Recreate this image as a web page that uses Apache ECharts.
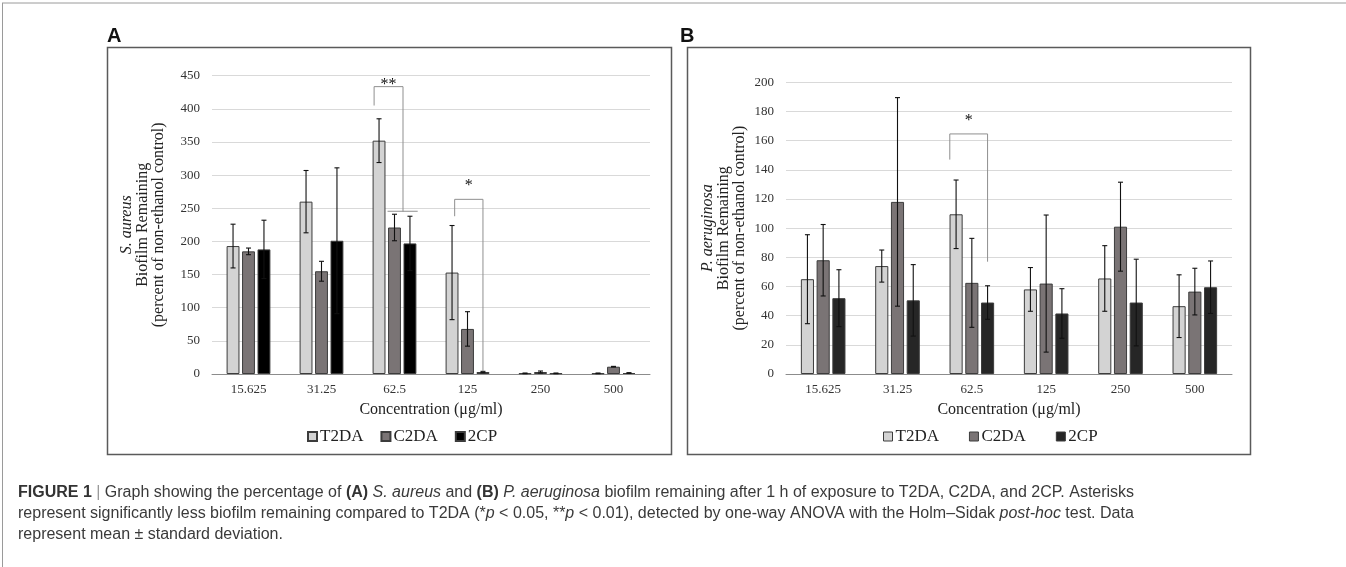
<!DOCTYPE html>
<html>
<head>
  <meta charset="UTF-8">
  <title>Biofilm remaining</title>
  <script type="text/javascript" src="https://cdn.jsdelivr.net/npm/echarts@6/dist/echarts.min.js"></script>
  <style>
    html, body { margin: 0; padding: 0; background: #fff; }
  </style>
</head>
<body>
<div id="main" style="width:1346px; height:567px;"></div>
<script>
  // ============ data ============
  const concentrations = ['15.625', '31.25', '62.5', '125', '250', '500'];
  const seriesNames = ['T2DA', 'C2DA', '2CP'];

  // A: S. aureus
  const aT2DA = [193, 260, 352, 153, 1, 1];
  const aC2DA = [185, 155, 221, 68, 3, 11];
  const a2CP  = [188, 201, 197, 3, 1, 1.5];
  const aT2DAsd = [33, 47, 33, 71, 0.5, 0.5];
  const aC2DAsd = [5, 15, 20, 26, 1.5, 0.5];
  const a2CPsd  = [44, 110, 41, 1, 0.5, 0.5];

  // B: P. aeruginosa
  const bT2DA = [65, 74, 109.5, 58, 65.5, 46.5];
  const bC2DA = [78, 118, 62.5, 62, 101, 56.5];
  const b2CP  = [52, 50.5, 49, 41.5, 49, 59.5];
  const bT2DAsd = [30.5, 11, 23.5, 15, 22.5, 21.5];
  const bC2DAsd = [24.5, 71.5, 30.5, 47, 30.5, 16];
  const b2CPsd  = [19.5, 24.5, 11.5, 17, 29.7, 18];

  // significance brackets: [category, left slot, right slot, left low, top, right low, label, label value]
  const aBrackets = [
    [2, -1.32, 0.55, 405, 433.5, 245, '**', 437],
    [3, -0.83, 1.0, 238, 263.5, 4, '*', 284]
  ];
  const aSpans = [[2, -0.45, 1.5, 245.5]];   // extra horizontal line under "**"
  const bBrackets = [
    [2, -1.4, 1.0, 147, 164.6, 77, '*', 173.5]
  ];

  const colors = ['#d3d3d3', '#7a7475', '#000000'];
  const colorsB = ['#d3d3d3', '#7a7475', '#262626'];
  const SLOT = 0.6 / 3.4 * 1.2; // bar centre step as part of band width

  const serif = 'Liberation Serif';

  let chart = echarts.init(document.getElementById('main'), null, {renderer: 'canvas'});

  function barSeries(name, data, idx, color) {
    return {
      name: name, type: 'bar', xAxisIndex: idx, yAxisIndex: idx,
      data: data, barGap: '20%', barCategoryGap: '40%',
      itemStyle: {color: color, borderColor: '#3c3c3c', borderWidth: 1},
      emphasis: {disabled: true}, z: 2
    };
  }

  function errSeries(name, means, sds, idx, slot) {
    return {
      name: name, type: 'custom', xAxisIndex: idx, yAxisIndex: idx, z: 5,
      silent: true,
      data: means.map((m, i) => [i, m, sds[i]]),
      renderItem: function (params, api) {
        const c = api.value(0), m = api.value(1), s = api.value(2);
        const band = api.size([1, 0])[0];
        const dx = slot * band * SLOT;
        const top = api.coord([c, m + s]);
        const bot = api.coord([c, Math.max(m - s, 0)]);
        const x = top[0] + dx;
        const st = {stroke: '#111', lineWidth: 1.1};
        return {
          type: 'group', children: [
            {type: 'line', shape: {x1: x, y1: top[1], x2: x, y2: bot[1]}, style: st},
            {type: 'line', shape: {x1: x - 2.5, y1: top[1], x2: x + 2.5, y2: top[1]}, style: st},
            {type: 'line', shape: {x1: x - 2.5, y1: bot[1], x2: x + 2.5, y2: bot[1]}, style: st}
          ]
        };
      }
    };
  }

  function bracketSeries(list, spans, idx) {
    return {
      type: 'custom', xAxisIndex: idx, yAxisIndex: idx, z: 6, silent: true,
      data: list.map(b => [b[0], b[4]]),
      renderItem: function (params, api) {
        const b = list[params.dataIndex];
        const band = api.size([1, 0])[0];
        const step = band * SLOT;
        const cx = api.coord([b[0], 0])[0];
        const xl = cx + b[1] * step, xr = cx + b[2] * step;
        const yl = api.coord([b[0], b[3]])[1];
        const yt = api.coord([b[0], b[4]])[1];
        const yr = api.coord([b[0], b[5]])[1];
        const ys = api.coord([b[0], b[7]])[1];
        const st = {stroke: '#8f8f8f', lineWidth: 1};
        const kids = [
          {type: 'polyline', shape: {points: [[xl, yl], [xl, yt], [xr, yt], [xr, yr]]}, style: Object.assign({fill: null}, st)},
          {type: 'text', style: {text: b[6], x: (xl + xr) / 2, y: ys, align: 'center', verticalAlign: 'middle',
            font: '16px "' + serif + '"', fill: '#111'}}
        ];
        spans.filter(s => s[0] === b[0]).forEach(s => {
          const y = api.coord([s[0], s[3]])[1];
          kids.push({type: 'line', shape: {x1: cx + s[1] * step, y1: y, x2: cx + s[2] * step, y2: y}, style: st});
        });
        return {type: 'group', children: kids};
      }
    };
  }

  function xAxisCfg(idx) {
    return {
      type: 'category', gridIndex: idx, data: concentrations,
      axisTick: {show: false},
      axisLine: {lineStyle: {color: '#8c8c8c', width: 1}},
      axisLabel: {fontFamily: serif, fontSize: 13, color: '#333', margin: 9},
      name: 'Concentration (\u03bcg/ml)', nameLocation: 'middle', nameGap: 28,
      nameTextStyle: {fontFamily: serif, fontSize: 16, color: '#222'}
    };
  }

  function yAxisCfg(idx, max, interval, species, gap) {
    return {
      type: 'value', gridIndex: idx, min: 0, max: max, interval: interval,
      axisLine: {show: false}, axisTick: {show: false},
      splitLine: {lineStyle: {color: '#d9d9d9', width: 1}},
      axisLabel: {fontFamily: serif, fontSize: 13, color: '#333', margin: 12},
      name: '{i|' + species + '}\n{n|Biofilm Remaining}\n{n|(percent of non-ethanol control)}',
      nameLocation: 'middle', nameGap: gap, nameRotate: 90,
      nameTextStyle: {
        fontFamily: serif, fontSize: 16, color: '#222', lineHeight: 16,
        rich: {
          i: {fontFamily: serif, fontStyle: 'italic', fontSize: 16, lineHeight: 16, color: '#222'},
          n: {fontFamily: serif, fontSize: 16, lineHeight: 16, color: '#222'}
        }
      }
    };
  }

  const caption = [
    '{b|FIGURE 1} {g||} Graph showing the percentage of {b|(A)} {i|S. aureus} and {b|(B)} {i|P. aeruginosa} biofilm remaining after 1 h of exposure to T2DA, C2DA, and 2CP. Asterisks',
    'represent significantly less biofilm remaining compared to T2DA (*{i|p} < 0.05, **{i|p} < 0.01), detected by one-way ANOVA with the Holm\u2013Sidak {i|post-hoc} test. Data',
    'represent mean \u00b1 standard deviation.'
  ];
  const capFont = '"Liberation Sans", sans-serif';

  const option = {
    animation: false,
    backgroundColor: '#fff',
    grid: [
      {left: 212, top: 75.7, width: 438, height: 298.3},
      {left: 786, top: 82.3, width: 446, height: 291.7}
    ],
    xAxis: [xAxisCfg(0), xAxisCfg(1)],
    yAxis: [yAxisCfg(0, 450, 50, 'S. aureus', 45), yAxisCfg(1, 200, 20, 'P. aeruginosa', 38)],
    legend: [
      {
        left: 302, top: 423, itemWidth: 9, itemHeight: 9, itemGap: 17, icon: 'rect',
        selectedMode: false,
        textStyle: {fontFamily: serif, fontSize: 17, color: '#222', padding: [0, 0, 0, -2]},
        data: seriesNames
      },
      {
        left: 878, top: 423, itemWidth: 9, itemHeight: 9, itemGap: 30, icon: 'rect',
        selectedMode: false,
        textStyle: {fontFamily: serif, fontSize: 17, color: '#222', padding: [0, 0, 0, -2]},
        data: seriesNames.map((n, i) => ({name: n, itemStyle: {color: colorsB[i], borderColor: '#3c3c3c', borderWidth: 1}}))
      }
    ],
    graphic: [
      {type: 'line', shape: {x1: 2, y1: 3, x2: 1346, y2: 3}, style: {stroke: '#9a9a9a', lineWidth: 1}},
      {type: 'line', shape: {x1: 2.5, y1: 3, x2: 2.5, y2: 567}, style: {stroke: '#9a9a9a', lineWidth: 1}},
      {type: 'rect', shape: {x: 107.5, y: 47.5, width: 564, height: 407}, style: {fill: null, stroke: '#5a5a5a', lineWidth: 1.5}, z: -1},
      {type: 'rect', shape: {x: 687.5, y: 47.5, width: 563, height: 407}, style: {fill: null, stroke: '#5a5a5a', lineWidth: 1.5}, z: -1},
      {type: 'text', left: 107, top: 26, style: {text: 'A', font: 'bold 20px "Liberation Sans"', fill: '#111'}},
      {type: 'text', left: 680, top: 26, style: {text: 'B', font: 'bold 20px "Liberation Sans"', fill: '#111'}}
    ].concat(caption.map((t, i) => ({
      type: 'text', left: 18, top: 485 + i * 21,
      style: {
        text: t, fontFamily: capFont, fontSize: 16, fill: '#3a3a3a',
        rich: {
          b: {fontFamily: capFont, fontSize: 16, fontWeight: 'bold', fill: '#333'},
          i: {fontFamily: capFont, fontSize: 16, fontStyle: 'italic', fill: '#3a3a3a'},
          g: {fontFamily: capFont, fontSize: 16, fill: '#999'}
        }
      }
    }))),
    series: [
      barSeries('T2DA', aT2DA, 0, colors[0]),
      barSeries('C2DA', aC2DA, 0, colors[1]),
      barSeries('2CP', a2CP, 0, colors[2]),
      barSeries('T2DA', bT2DA, 1, colorsB[0]),
      barSeries('C2DA', bC2DA, 1, colorsB[1]),
      barSeries('2CP', b2CP, 1, colorsB[2]),
      errSeries('T2DA', aT2DA, aT2DAsd, 0, -1),
      errSeries('C2DA', aC2DA, aC2DAsd, 0, 0),
      errSeries('2CP', a2CP, a2CPsd, 0, 1),
      errSeries('T2DA', bT2DA, bT2DAsd, 1, -1),
      errSeries('C2DA', bC2DA, bC2DAsd, 1, 0),
      errSeries('2CP', b2CP, b2CPsd, 1, 1),
      bracketSeries(aBrackets, aSpans, 0),
      bracketSeries(bBrackets, [], 1)
    ]
  };

  chart.setOption(option);
</script>
</body>
</html>
